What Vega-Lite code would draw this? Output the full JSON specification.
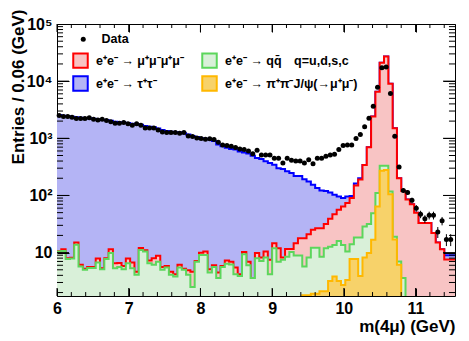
{
  "$schema": "https://vega.github.io/schema/vega-lite/v6.json",
  "width": 398,
  "height": 272,
  "autosize": {"type": "none"},
  "padding": {"left": 57, "top": 24, "right": 14, "bottom": 45},
  "background": "white",
  "config": {
    "view": {"stroke": "black", "strokeWidth": 1},
    "font": "Liberation Sans",
    "axis": {"grid": false, "domain": false, "ticks": true, "labelFont": "Liberation Sans", "labelFontWeight": "bold", "labelFontSize": 16, "labelColor": "black", "titleFont": "Liberation Sans", "titleFontWeight": "bold", "titleFontSize": 17, "titleColor": "black", "tickColor": "black", "tickWidth": 1, "labelFlush": false, "labelOverlap": false, "labelBound": false}
  },
  "datasets": {
    "xmaj": [{"t":6},{"t":7},{"t":8},{"t":9},{"t":10},{"t":11}],
    "xmin": [{"t":6.2},{"t":6.4},{"t":6.6},{"t":6.8},{"t":7.2},{"t":7.4},{"t":7.6},{"t":7.8},{"t":8.2},{"t":8.4},{"t":8.6},{"t":8.8},{"t":9.2},{"t":9.4},{"t":9.6},{"t":9.8},{"t":10.2},{"t":10.4},{"t":10.6},{"t":10.8},{"t":11.2},{"t":11.4}],
    "ymaj": [{"t":10},{"t":100},{"t":1000},{"t":10000}],
    "ymin": [{"t":2},{"t":3},{"t":4},{"t":5},{"t":6},{"t":7},{"t":8},{"t":9},{"t":20},{"t":30},{"t":40},{"t":50},{"t":60},{"t":70},{"t":80},{"t":90},{"t":200},{"t":300},{"t":400},{"t":500},{"t":600},{"t":700},{"t":800},{"t":900},{"t":2000},{"t":3000},{"t":4000},{"t":5000},{"t":6000},{"t":7000},{"t":8000},{"t":9000},{"t":20000},{"t":30000},{"t":40000},{"t":50000},{"t":60000},{"t":70000},{"t":80000},{"t":90000}]
  },
  "data": {"values": [
    {"m":5.97,"tau":2550,"mu":10.6,"qq":10.4,"psi":1},
    {"m":6.03,"n":2500,"tau":2550,"mu":10.6,"qq":10.4,"psi":1},
    {"m":6.09,"n":2400,"tau":2480,"mu":11.5,"qq":10.7,"psi":1},
    {"m":6.15,"n":2400,"tau":2420,"mu":8.0,"qq":7.7,"psi":1},
    {"m":6.21,"n":2340,"tau":2380,"mu":8.1,"qq":7.9,"psi":1},
    {"m":6.27,"n":2220,"tau":2330,"mu":15,"qq":13.7,"psi":1},
    {"m":6.33,"n":2220,"tau":2290,"mu":6.1,"qq":5.7,"psi":1},
    {"m":6.39,"n":2220,"tau":2260,"mu":5.2,"qq":5.0,"psi":1},
    {"m":6.45,"n":2280,"tau":2240,"mu":5.6,"qq":5.4,"psi":1},
    {"m":6.51,"n":2150,"tau":2200,"mu":5.6,"qq":5.4,"psi":1},
    {"m":6.57,"n":2100,"tau":2150,"mu":7.9,"qq":6.7,"psi":1},
    {"m":6.63,"n":2150,"tau":2120,"mu":5.3,"qq":5.1,"psi":1},
    {"m":6.69,"n":2050,"tau":2080,"mu":8.0,"qq":7.7,"psi":1},
    {"m":6.75,"n":1940,"tau":2020,"mu":11.5,"qq":9.8,"psi":1},
    {"m":6.81,"n":1830,"tau":1950,"mu":6.5,"qq":5.3,"psi":1},
    {"m":6.87,"n":1830,"tau":1900,"mu":6.6,"qq":5.6,"psi":1},
    {"m":6.93,"n":1885,"tau":1880,"mu":5.8,"qq":5.1,"psi":1},
    {"m":6.99,"n":1790,"tau":1850,"mu":7.9,"qq":6.5,"psi":1},
    {"m":7.05,"n":1690,"tau":1800,"mu":6.7,"qq":5.3,"psi":1},
    {"m":7.11,"n":1790,"tau":1780,"mu":4.6,"qq":4.1,"psi":1},
    {"m":7.17,"n":1690,"tau":1720,"mu":12,"qq":11.1,"psi":1},
    {"m":7.23,"n":1520,"tau":1640,"mu":11.0,"qq":10.4,"psi":1},
    {"m":7.29,"n":1520,"tau":1600,"mu":7.3,"qq":6.5,"psi":1},
    {"m":7.35,"n":1520,"tau":1560,"mu":8.0,"qq":6.1,"psi":1},
    {"m":7.41,"n":1400,"tau":1480,"mu":8.8,"qq":6.9,"psi":1},
    {"m":7.47,"n":1295,"tau":1400,"mu":5.6,"qq":5.0,"psi":1},
    {"m":7.53,"n":1260,"tau":1340,"mu":5.8,"qq":5.5,"psi":1},
    {"m":7.59,"n":1260,"tau":1300,"mu":4.6,"qq":4.1,"psi":1},
    {"m":7.65,"n":1260,"tau":1280,"mu":4.2,"qq":3.8,"psi":1},
    {"m":7.71,"n":1225,"tau":1270,"mu":6.1,"qq":5.5,"psi":1},
    {"m":7.77,"n":1260,"tau":1230,"mu":5.2,"qq":5.0,"psi":1},
    {"m":7.83,"n":1100,"tau":1170,"mu":4.9,"qq":4.1,"psi":1},
    {"m":7.89,"n":1070,"tau":1100,"mu":4.6,"qq":2.5,"psi":1},
    {"m":7.95,"n":1016,"tau":1050,"mu":7.1,"qq":6.9,"psi":1},
    {"m":8.01,"n":990,"tau":1000,"mu":9.9,"qq":9.1,"psi":1},
    {"m":8.07,"n":960,"tau":980,"mu":10.4,"qq":9.1,"psi":1},
    {"m":8.13,"n":980,"tau":960,"mu":5.1,"qq":4.5,"psi":1},
    {"m":8.19,"n":950,"tau":900,"mu":6.0,"qq":5.6,"psi":1},
    {"m":8.25,"n":850,"tau":780,"mu":4.5,"qq":3.6,"psi":1},
    {"m":8.31,"n":766,"tau":725,"mu":5.8,"qq":5.6,"psi":1},
    {"m":8.37,"n":745,"tau":680,"mu":7.3,"qq":6.4,"psi":1},
    {"m":8.43,"n":725,"tau":650,"mu":6.9,"qq":6.2,"psi":1},
    {"m":8.49,"n":687,"tau":634,"mu":5.5,"qq":4.2,"psi":1},
    {"m":8.55,"n":651,"tau":590,"mu":4.2,"qq":3.9,"psi":1},
    {"m":8.61,"n":634,"tau":565,"mu":10.2,"qq":9.4,"psi":1},
    {"m":8.67,"n":601,"tau":540,"mu":6.9,"qq":6.0,"psi":1},
    {"m":8.73,"n":539,"tau":495,"mu":3.6,"qq":3.6,"psi":1},
    {"m":8.79,"n":616,"tau":450,"mu":9.8,"qq":8.0,"psi":1},
    {"m":8.85,"n":512,"tau":435,"mu":8.2,"qq":7.1,"psi":1},
    {"m":8.91,"n":512,"tau":395,"mu":10.4,"qq":8.2,"psi":1},
    {"m":8.97,"n":512,"tau":370,"mu":7.5,"qq":4.2,"psi":1},
    {"m":9.03,"n":446,"tau":345,"mu":14.6,"qq":11.9,"psi":1},
    {"m":9.09,"n":446,"tau":300,"mu":11.9,"qq":6.9,"psi":1},
    {"m":9.15,"n":370,"tau":290,"mu":8.2,"qq":7.5,"psi":1},
    {"m":9.21,"n":446,"tau":265,"mu":11.6,"qq":8.5,"psi":1},
    {"m":9.27,"n":411,"tau":248,"mu":11.6,"qq":10.2,"psi":1},
    {"m":9.33,"n":401,"tau":220,"mu":14.6,"qq":8.9,"psi":1},
    {"m":9.39,"n":401,"tau":220,"mu":17.9,"qq":8.9,"psi":1},
    {"m":9.45,"n":370,"tau":193,"mu":17.9,"qq":5.7,"psi":1.8},
    {"m":9.51,"n":423,"tau":176,"mu":21,"qq":8.2,"psi":1.8},
    {"m":9.57,"n":360,"tau":154,"mu":25,"qq":12.2,"psi":1.9},
    {"m":9.63,"n":446,"tau":135,"mu":26.8,"qq":12.2,"psi":1.9},
    {"m":9.69,"n":446,"tau":122,"mu":26.8,"qq":8.5,"psi":2.1},
    {"m":9.75,"n":483,"tau":120,"mu":31.5,"qq":11.9,"psi":2.1},
    {"m":9.81,"n":512,"tau":113,"mu":39,"qq":12.7,"psi":3.2},
    {"m":9.87,"n":524,"tau":103,"mu":47,"qq":13.6,"psi":3.8},
    {"m":9.93,"n":634,"tau":96,"mu":56,"qq":16.0,"psi":3.2},
    {"m":9.99,"n":745,"tau":90,"mu":64,"qq":13.6,"psi":2.7},
    {"m":10.05,"n":766,"tau":96,"mu":74,"qq":10.4,"psi":3.3},
    {"m":10.11,"n":766,"tau":98,"mu":90,"qq":14.0,"psi":7.7},
    {"m":10.17,"n":990,"tau":162,"mu":150,"qq":18.3,"psi":7.7},
    {"m":10.23,"n":1160,"tau":200,"mu":190,"qq":18.3,"psi":3.9},
    {"m":10.29,"n":1585,"tau":340,"mu":340,"qq":28.6,"psi":8.2},
    {"m":10.35,"n":2245,"tau":700,"mu":700,"qq":31.5,"psi":9.8},
    {"m":10.41,"n":3640,"tau":2400,"mu":2400,"qq":49,"psi":16.7},
    {"m":10.47,"n":7850,"tau":6500,"mu":6500,"qq":110,"psi":64},
    {"m":10.53,"n":17200,"tau":21000,"mu":21000,"qq":330,"psi":270},
    {"m":10.59,"n":17600,"tau":27000,"mu":27000,"qq":330,"psi":280},
    {"m":10.65,"n":6090,"tau":9000,"mu":9000,"qq":117,"psi":105},
    {"m":10.71,"n":1085,"tau":1500,"mu":1500,"qq":19,"psi":17},
    {"m":10.77,"n":315,"lo":297,"hi":333,"tau":200,"mu":200,"qq":7,"psi":6.1},
    {"m":10.83,"n":122,"lo":111,"hi":133,"tau":120,"mu":120,"qq":3.6,"psi":1},
    {"m":10.89,"n":113,"lo":102,"hi":124,"tau":85,"mu":85,"qq":1,"psi":1},
    {"m":10.95,"n":82,"lo":73,"hi":91,"tau":70,"mu":70,"qq":1,"psi":1},
    {"m":11.01,"n":60,"lo":52,"hi":68,"tau":50,"mu":50,"qq":1,"psi":1},
    {"m":11.07,"n":47,"lo":40,"hi":54,"tau":33,"mu":33,"qq":1,"psi":1},
    {"m":11.13,"n":39,"lo":33,"hi":45,"tau":33,"mu":33,"qq":1,"psi":1},
    {"m":11.19,"n":45,"lo":38,"hi":52,"tau":33,"mu":33,"qq":1,"psi":1},
    {"m":11.25,"n":45,"lo":38,"hi":52,"tau":22,"mu":22,"qq":1,"psi":1},
    {"m":11.31,"n":23,"lo":18,"hi":28,"tau":15,"mu":15,"qq":1,"psi":1},
    {"m":11.37,"n":36,"lo":30,"hi":42,"tau":11.5,"mu":11.5,"qq":1,"psi":1},
    {"m":11.43,"n":17,"lo":13,"hi":21,"tau":9,"mu":7.6,"qq":1,"psi":1},
    {"m":11.49,"n":17,"lo":13,"hi":21,"tau":9,"mu":7.6,"qq":1,"psi":1},
    {"m":11.55,"tau":9,"mu":7.6,"qq":1,"psi":1}
  ]},
  "resolve": {"axis": {"x": "independent", "y": "independent"}},
  "layer": [
    {
      "mark": {"type": "area", "interpolate": "step", "clip": true, "opacity": 1},
      "encoding": {
        "x": {"field": "m", "type": "quantitative", "scale": {"domain": [6, 11.55], "nice": false, "zero": false},
              "axis": {"orient": "bottom", "zindex": 1, "values": [6, 7, 8, 9, 10, 11], "offset": -8, "tickSize": 8, "labelPadding": 4, "format": "d",
                       "title": "m(4μ) (GeV)", "titleAnchor": "end", "titleAlign": "right", "titleBaseline": "alphabetic", "titleY": 43}},
        "y": {"field": "tau", "type": "quantitative", "scale": {"type": "log", "domain": [1.74, 100000], "nice": false},
              "axis": {"orient": "left", "zindex": 1, "values": [10, 100, 1000, 10000, 100000], "offset": -12, "tickSize": 12, "labelPadding": 5,
                       "labelExpr": "datum.value > 99999 ? '10⁵' : datum.value > 9999 ? '10⁴' : datum.value > 999 ? '10³' : datum.value > 99 ? '10²' : '10'",
                       "title": "Entries / 0.06 (GeV)", "titleAnchor": "end", "titleAngle": 270, "titleAlign": "right", "titleBaseline": "alphabetic", "titleX": -46, "titleY": -15}},
        "y2": {"datum": 1},
        "fill": {"datum": "e⁺e⁻ → τ⁺τ⁻",
                 "scale": {"domain": ["e⁺e⁻ → μ⁺μ⁻μ⁺μ⁻", "e⁺e⁻ → τ⁺τ⁻", "e⁺e⁻ → qq̄\u2003q=u,d,s,c", "e⁺e⁻ → π⁺π⁻J/ψ(→μ⁺μ⁻)"],
                           "range": ["#f8c4c4", "#b4b4f5", "#d9f0d9", "#f7d26a"]},
                 "legend": {"title": null, "orient": "none", "legendX": 15, "legendY": 28, "columns": 2, "symbolType": "square", "symbolSize": 210, "symbolStrokeWidth": 2, "symbolOpacity": 1,
                            "labelFont": "Liberation Sans", "labelFontWeight": "bold", "labelFontSize": 12.5, "labelColor": "black", "labelOffset": 7, "rowPadding": 0, "columnPadding": 14, "padding": 0, "labelLimit": 300}}
      }
    },
    {
      "mark": {"type": "line", "interpolate": "step", "clip": true, "strokeWidth": 2},
      "encoding": {
        "x": {"field": "m", "type": "quantitative", "scale": {"domain": [6, 11.55], "nice": false, "zero": false},
              "axis": {"orient": "top", "zindex": 1, "values": [6, 7, 8, 9, 10, 11], "offset": -8, "tickSize": 8, "labels": false, "title": null}},
        "y": {"field": "tau", "type": "quantitative", "scale": {"type": "log", "domain": [1.74, 100000], "nice": false},
              "axis": {"orient": "right", "zindex": 1, "values": [10, 100, 1000, 10000, 100000], "offset": -12, "tickSize": 12, "labels": false, "title": null}},
        "stroke": {"datum": "e⁺e⁻ → τ⁺τ⁻",
                   "scale": {"domain": ["e⁺e⁻ → μ⁺μ⁻μ⁺μ⁻", "e⁺e⁻ → τ⁺τ⁻", "e⁺e⁻ → qq̄\u2003q=u,d,s,c", "e⁺e⁻ → π⁺π⁻J/ψ(→μ⁺μ⁻)"],
                             "range": ["#ff0000", "#0000ff", "#5cd65c", "#ffb800"]},
                   "legend": {"title": null, "orient": "none", "legendX": 15, "legendY": 28, "columns": 2, "symbolType": "square", "symbolSize": 210, "symbolStrokeWidth": 2, "symbolOpacity": 1,
                              "labelFont": "Liberation Sans", "labelFontWeight": "bold", "labelFontSize": 12.5, "labelColor": "black", "labelOffset": 7, "rowPadding": 0, "columnPadding": 14, "padding": 0, "labelLimit": 300}}
      }
    },
    {
      "mark": {"type": "area", "interpolate": "step", "clip": true, "opacity": 1},
      "encoding": {
        "x": {"field": "m", "type": "quantitative", "scale": {"domain": [6, 11.55], "nice": false, "zero": false}, "axis": null},
        "y": {"field": "mu", "type": "quantitative", "scale": {"type": "log", "domain": [1.74, 100000], "nice": false}, "axis": null},
        "y2": {"datum": 1},
        "fill": {"datum": "e⁺e⁻ → μ⁺μ⁻μ⁺μ⁻"}
      }
    },
    {
      "mark": {"type": "line", "interpolate": "step", "clip": true, "strokeWidth": 2},
      "encoding": {
        "x": {"field": "m", "type": "quantitative", "scale": {"domain": [6, 11.55], "nice": false, "zero": false}, "axis": null},
        "y": {"field": "mu", "type": "quantitative", "scale": {"type": "log", "domain": [1.74, 100000], "nice": false}, "axis": null},
        "stroke": {"datum": "e⁺e⁻ → μ⁺μ⁻μ⁺μ⁻"}
      }
    },
    {
      "mark": {"type": "area", "interpolate": "step", "clip": true, "opacity": 1},
      "encoding": {
        "x": {"field": "m", "type": "quantitative", "scale": {"domain": [6, 11.55], "nice": false, "zero": false}, "axis": null},
        "y": {"field": "qq", "type": "quantitative", "scale": {"type": "log", "domain": [1.74, 100000], "nice": false}, "axis": null},
        "y2": {"datum": 1},
        "fill": {"datum": "e⁺e⁻ → qq̄\u2003q=u,d,s,c"}
      }
    },
    {
      "mark": {"type": "line", "interpolate": "step", "clip": true, "strokeWidth": 2},
      "encoding": {
        "x": {"field": "m", "type": "quantitative", "scale": {"domain": [6, 11.55], "nice": false, "zero": false}, "axis": null},
        "y": {"field": "qq", "type": "quantitative", "scale": {"type": "log", "domain": [1.74, 100000], "nice": false}, "axis": null},
        "stroke": {"datum": "e⁺e⁻ → qq̄\u2003q=u,d,s,c"}
      }
    },
    {
      "mark": {"type": "area", "interpolate": "step", "clip": true, "opacity": 1},
      "encoding": {
        "x": {"field": "m", "type": "quantitative", "scale": {"domain": [6, 11.55], "nice": false, "zero": false}, "axis": null},
        "y": {"field": "psi", "type": "quantitative", "scale": {"type": "log", "domain": [1.74, 100000], "nice": false}, "axis": null},
        "y2": {"datum": 1},
        "fill": {"datum": "e⁺e⁻ → π⁺π⁻J/ψ(→μ⁺μ⁻)"}
      }
    },
    {
      "mark": {"type": "line", "interpolate": "step", "clip": true, "strokeWidth": 2},
      "encoding": {
        "x": {"field": "m", "type": "quantitative", "scale": {"domain": [6, 11.55], "nice": false, "zero": false}, "axis": null},
        "y": {"field": "psi", "type": "quantitative", "scale": {"type": "log", "domain": [1.74, 100000], "nice": false}, "axis": null},
        "stroke": {"datum": "e⁺e⁻ → π⁺π⁻J/ψ(→μ⁺μ⁻)"}
      }
    },
    {
      "mark": {"type": "rule", "color": "black", "strokeWidth": 1},
      "encoding": {
        "x": {"field": "m", "type": "quantitative", "scale": {"domain": [6, 11.55], "nice": false, "zero": false}, "axis": null},
        "y": {"field": "lo", "type": "quantitative", "scale": {"type": "log", "domain": [1.74, 100000], "nice": false}, "axis": null},
        "y2": {"field": "hi"}
      }
    },
    {
      "mark": {"type": "point", "filled": true, "color": "black", "size": 25, "opacity": 1},
      "encoding": {
        "x": {"field": "m", "type": "quantitative", "scale": {"domain": [6, 11.55], "nice": false, "zero": false}, "axis": null},
        "y": {"field": "n", "type": "quantitative", "scale": {"type": "log", "domain": [1.74, 100000], "nice": false}, "axis": null},
        "shape": {"datum": "Data", "scale": {"range": ["circle"]},
                  "legend": {"title": null, "orient": "none", "legendX": 20, "legendY": 9, "symbolSize": 25, "symbolFillColor": "black", "symbolStrokeColor": "black", "labelOffset": 12, "padding": 0,
                             "labelFont": "Liberation Sans", "labelFontWeight": "bold", "labelFontSize": 12.5, "labelColor": "black"}}
      }
    },
    {
      "data": {"name": "xmaj"},
      "mark": {"type": "rule", "color": "black", "strokeWidth": 1},
      "encoding": {"x": {"field": "t", "type": "quantitative", "scale": {"domain": [6, 11.55], "nice": false, "zero": false}, "axis": null},
                   "y": {"datum": 1.74, "type": "quantitative", "scale": {"type": "log", "domain": [1.74, 100000], "nice": false}, "axis": null},
                   "y2": {"datum": 2.4}}
    },
    {
      "data": {"name": "xmaj"},
      "mark": {"type": "rule", "color": "black", "strokeWidth": 1},
      "encoding": {"x": {"field": "t", "type": "quantitative", "scale": {"domain": [6, 11.55], "nice": false, "zero": false}, "axis": null},
                   "y": {"datum": 100000, "type": "quantitative", "scale": {"type": "log", "domain": [1.74, 100000], "nice": false}, "axis": null},
                   "y2": {"datum": 72400}}
    },
    {
      "data": {"name": "xmin"},
      "mark": {"type": "rule", "color": "black", "strokeWidth": 1},
      "encoding": {"x": {"field": "t", "type": "quantitative", "scale": {"domain": [6, 11.55], "nice": false, "zero": false}, "axis": null},
                   "y": {"datum": 1.74, "type": "quantitative", "scale": {"type": "log", "domain": [1.74, 100000], "nice": false}, "axis": null},
                   "y2": {"datum": 2.04}}
    },
    {
      "data": {"name": "xmin"},
      "mark": {"type": "rule", "color": "black", "strokeWidth": 1},
      "encoding": {"x": {"field": "t", "type": "quantitative", "scale": {"domain": [6, 11.55], "nice": false, "zero": false}, "axis": null},
                   "y": {"datum": 100000, "type": "quantitative", "scale": {"type": "log", "domain": [1.74, 100000], "nice": false}, "axis": null},
                   "y2": {"datum": 85100}}
    },
    {
      "data": {"name": "ymaj"},
      "mark": {"type": "rule", "color": "black", "strokeWidth": 1},
      "encoding": {"y": {"field": "t", "type": "quantitative", "scale": {"type": "log", "domain": [1.74, 100000], "nice": false}, "axis": null},
                   "x": {"datum": 6, "type": "quantitative", "scale": {"domain": [6, 11.55], "nice": false, "zero": false}, "axis": null},
                   "x2": {"datum": 6.167}}
    },
    {
      "data": {"name": "ymaj"},
      "mark": {"type": "rule", "color": "black", "strokeWidth": 1},
      "encoding": {"y": {"field": "t", "type": "quantitative", "scale": {"type": "log", "domain": [1.74, 100000], "nice": false}, "axis": null},
                   "x": {"datum": 11.55, "type": "quantitative", "scale": {"domain": [6, 11.55], "nice": false, "zero": false}, "axis": null},
                   "x2": {"datum": 11.383}}
    },
    {
      "data": {"name": "ymin"},
      "mark": {"type": "rule", "color": "black", "strokeWidth": 1},
      "encoding": {"y": {"field": "t", "type": "quantitative", "scale": {"type": "log", "domain": [1.74, 100000], "nice": false}, "axis": null},
                   "x": {"datum": 6, "type": "quantitative", "scale": {"domain": [6, 11.55], "nice": false, "zero": false}, "axis": null},
                   "x2": {"datum": 6.084}}
    },
    {
      "data": {"name": "ymin"},
      "mark": {"type": "rule", "color": "black", "strokeWidth": 1},
      "encoding": {"y": {"field": "t", "type": "quantitative", "scale": {"type": "log", "domain": [1.74, 100000], "nice": false}, "axis": null},
                   "x": {"datum": 11.55, "type": "quantitative", "scale": {"domain": [6, 11.55], "nice": false, "zero": false}, "axis": null},
                   "x2": {"datum": 11.466}}
    }
  ]
}
